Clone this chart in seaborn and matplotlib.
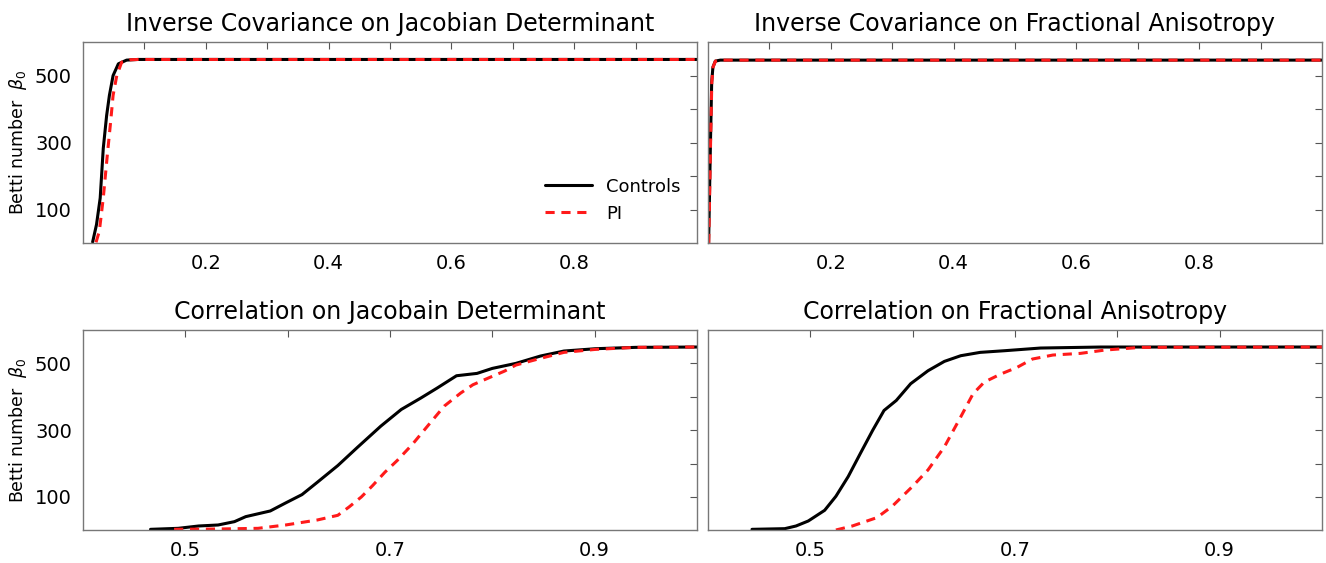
import numpy as np
import pandas as pd
import matplotlib
matplotlib.use("Agg")
import matplotlib.pyplot as plt
import seaborn as sns

# ---- data ----
titles = ["Inverse Covariance on Jacobian Determinant",
          "Inverse Covariance on Fractional Anisotropy",
          "Correlation on Jacobain Determinant",
          "Correlation on Fractional Anisotropy"]

# inverse covariance, jacobian determinant
icj_ctrl_x = [0.0157, 0.022, 0.028, 0.033, 0.0385, 0.043, 0.049, 0.0576, 0.071, 0.09, 1.0]
icj_ctrl_y = [4, 56, 135, 283, 381, 441, 500, 535, 546, 548, 548]
icj_pi_x = [0.0212, 0.0266, 0.033, 0.0396, 0.045, 0.049, 0.055, 0.063, 0.0765, 0.09, 1.0]
icj_pi_y = [3, 36, 135, 263, 362, 441, 500, 540, 547, 548, 548]

# inverse covariance, fractional anisotropy
icf_ctrl_x = [0.001, 0.002, 0.004, 0.006, 0.008, 0.012, 0.02, 1.0]
icf_ctrl_y = [1, 100, 300, 480, 525, 543, 546, 546]
icf_pi_x = [0.0012, 0.0022, 0.0042, 0.0062, 0.0082, 0.012, 0.02, 1.0]
icf_pi_y = [1, 100, 300, 480, 525, 543, 546, 546]

# correlation, jacobian determinant
cj_ctrl_x = [0.466, 0.493, 0.513, 0.532, 0.548, 0.559, 0.583, 0.598, 0.614, 0.629,
             0.649, 0.668, 0.691, 0.711, 0.730, 0.746, 0.765, 0.785, 0.800, 0.823,
             0.847, 0.870, 0.901, 0.940, 1.0]
cj_ctrl_y = [3, 6, 13, 16, 26, 41, 58, 82, 107, 144,
             194, 248, 312, 362, 396, 426, 463, 470, 485, 500,
             522, 537, 544, 548, 549]
cj_pi_x = [0.489, 0.532, 0.571, 0.598, 0.629, 0.649, 0.660, 0.672, 0.683, 0.695,
           0.707, 0.722, 0.738, 0.753, 0.769, 0.781, 0.796, 0.812, 0.823, 0.847,
           0.870, 0.901, 0.940, 1.0]
cj_pi_y = [3, 4, 6, 16, 31, 45, 70, 100, 134, 174,
           209, 258, 317, 372, 411, 436, 456, 477, 495, 515,
           533, 542, 548, 549]

# correlation, fractional anisotropy
cf_ctrl_x = [0.443, 0.475, 0.486, 0.498, 0.514, 0.525, 0.537, 0.549, 0.561, 0.572,
             0.584, 0.598, 0.615, 0.631, 0.647, 0.666, 0.690, 0.725, 0.784, 1.0]
cf_ctrl_y = [3, 5, 13, 28, 60, 102, 161, 231, 300, 359,
             389, 439, 478, 506, 523, 533, 538, 546, 549, 549]
cf_pi_x = [0.525, 0.541, 0.565, 0.580, 0.600, 0.615, 0.631, 0.647, 0.659, 0.670,
           0.686, 0.702, 0.717, 0.737, 0.764, 0.788, 0.823, 1.0]
cf_pi_y = [1, 13, 38, 72, 132, 181, 250, 340, 409, 444,
           468, 488, 513, 525, 530, 540, 548, 549]

top_xticks = [0.1, 0.2, 0.3, 0.4, 0.5, 0.6, 0.7, 0.8, 0.9]
top_xlabels = ["", "0.2", "", "0.4", "", "0.6", "", "0.8", ""]
bot_xticks = [0.5, 0.6, 0.7, 0.8, 0.9]
bot_xlabels = ["0.5", "", "0.7", "", "0.9"]
yticks = [100, 200, 300, 400, 500]
ylabels = ["100", "", "300", "", "500"]

panels = [
    (icj_ctrl_x, icj_ctrl_y, icj_pi_x, icj_pi_y),
    (icf_ctrl_x, icf_ctrl_y, icf_pi_x, icf_pi_y),
    (cj_ctrl_x, cj_ctrl_y, cj_pi_x, cj_pi_y),
    (cf_ctrl_x, cf_ctrl_y, cf_pi_x, cf_pi_y),
]

sns.set_style("white")
plt.rcParams['font.family'] = ['DejaVu Sans']
plt.rcParams['text.color'] = 'black'
plt.rcParams['axes.labelcolor'] = 'black'

W, H = 1326, 563
fig = plt.figure(figsize=(W / 100, H / 100), dpi=100)
boxes = [(83, 42, 697, 243), (708, 42, 1322, 243),
         (83, 330, 697, 530), (708, 330, 1322, 530)]

for i, (box, data) in enumerate(zip(boxes, panels)):
    x0, y0, x1, y1 = box
    ax = fig.add_axes([x0 / W, 1 - y1 / H, (x1 - x0) / W, (y1 - y0) / H])
    cx, cy, px, py = data
    df = pd.concat([
        pd.DataFrame({"x": cx, "y": cy, "group": "Controls"}),
        pd.DataFrame({"x": px, "y": py, "group": "PI"}),
    ])
    sns.lineplot(data=df[df.group == "Controls"], x="x", y="y", ax=ax,
                 color="black", lw=2.2, label="Controls", estimator=None, sort=False)
    sns.lineplot(data=df[df.group == "PI"], x="x", y="y", ax=ax,
                 color="#ff1a1a", lw=2.2, ls=(0, (3, 2.2)), label="PI",
                 estimator=None, sort=False)
    if i < 2:
        ax.set_xlim(0, 1.0)
        ax.set_xticks(top_xticks)
        ax.set_xticklabels(top_xlabels)
    else:
        ax.set_xlim(0.4, 1.0)
        ax.set_xticks(bot_xticks)
        ax.set_xticklabels(bot_xlabels)
    ax.set_ylim(1, 600)
    ax.set_yticks(yticks)
    if i % 2 == 0:
        ax.set_yticklabels(ylabels)
        ax.set_ylabel(r"Betti number  $\beta_0$", fontsize=12.5, labelpad=4)
    else:
        ax.set_yticklabels([])
        ax.set_ylabel("")
    ax.set_xlabel("")
    ax.set_title(titles[i], fontsize=17, pad=8, color="black")
    ax.tick_params(direction="in", length=5, width=0.8, top=True, right=True,
                   labelsize=14, color="#555555", labelcolor="black", pad=8)
    for sp in ax.spines.values():
        sp.set_color("#777777")
        sp.set_linewidth(1.0)
    if i == 0:
        ax.legend(loc="lower right", frameon=False, fontsize=13,
                  handlelength=2.6, bbox_to_anchor=(1.0, 0.02))
    else:
        ax.get_legend().remove()

fig.savefig("out.png", dpi=100)
